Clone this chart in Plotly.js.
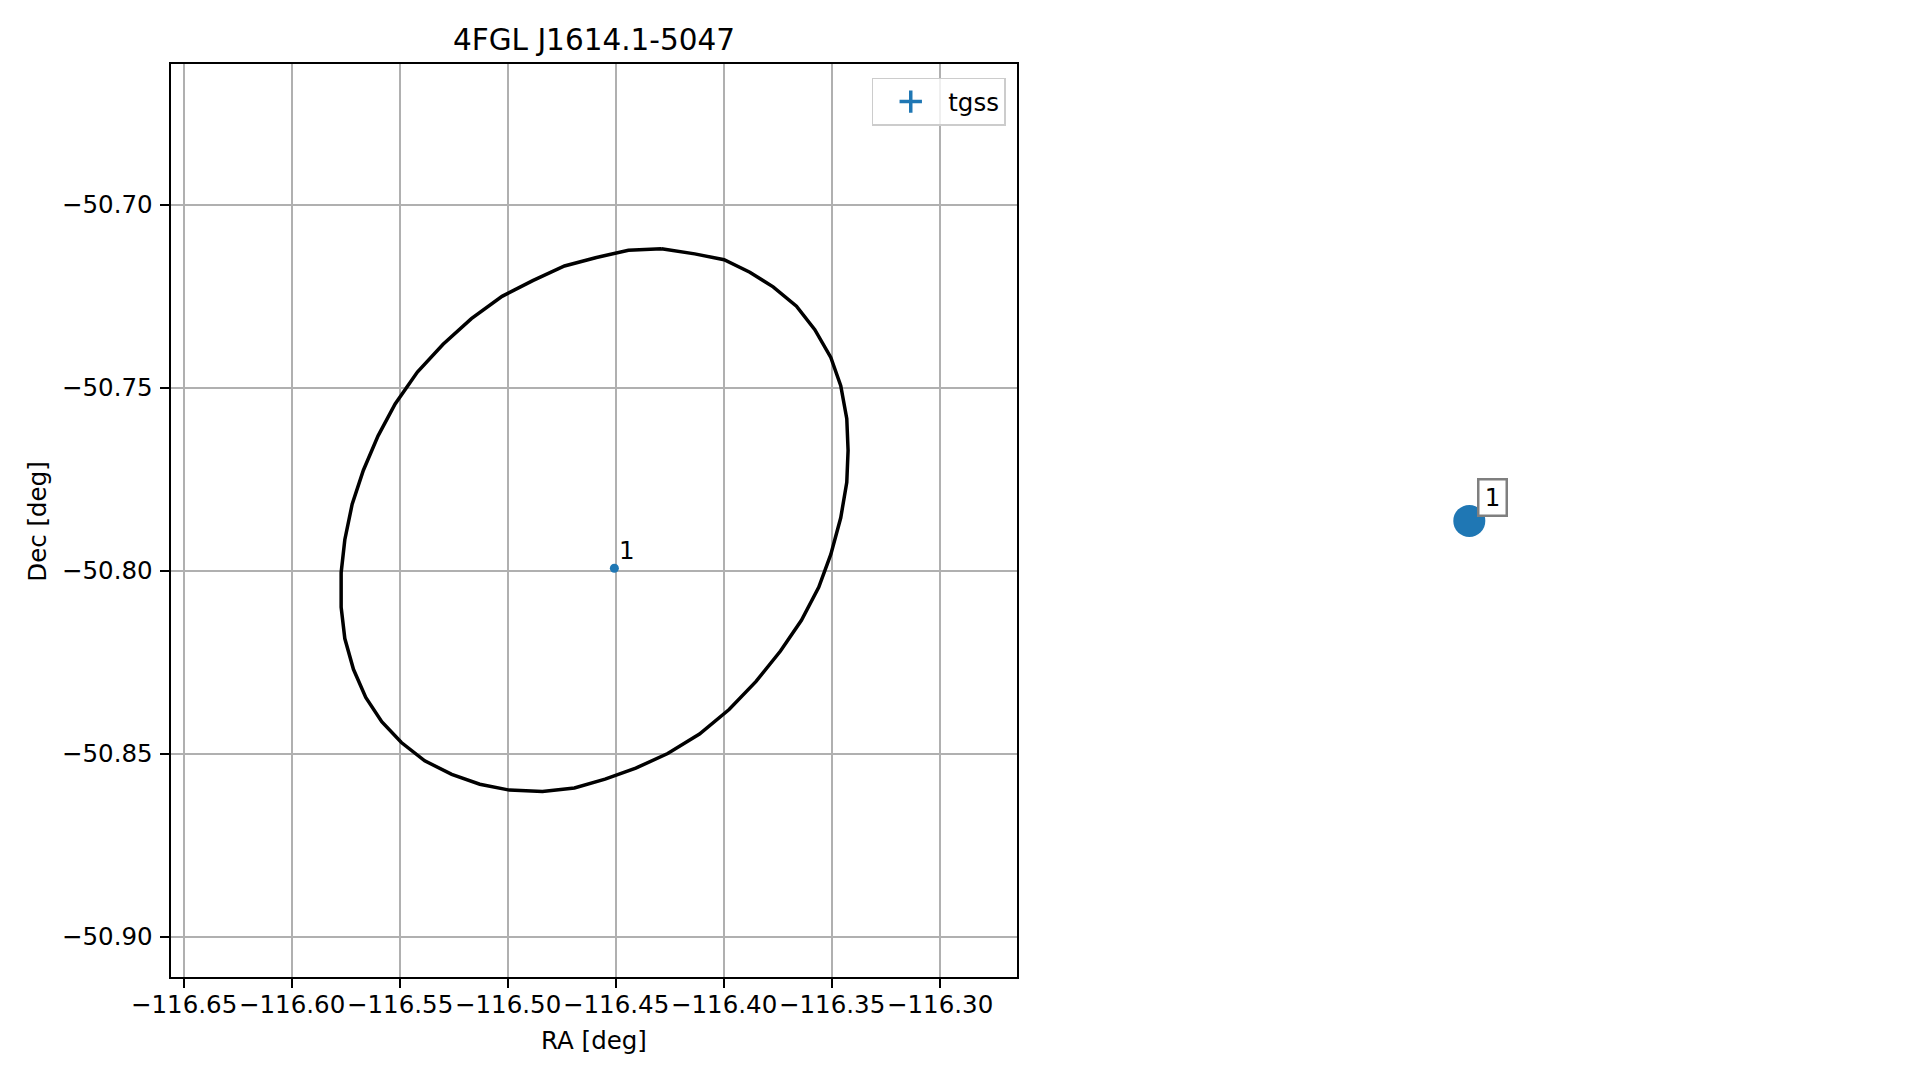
<!DOCTYPE html>
<html>
<head>
<meta charset="utf-8">
<script src="https://cdn.plot.ly/plotly-3.0.1.min.js"></script>
<style>html,body{margin:0;padding:0;background:#fff;}#chart{width:1919px;height:1080px;}</style>
</head>
<body>
<div id="chart"></div>
<script>
// ---- data ----
const chartTitle = "4FGL J1614.1-5047";
const sourceRA = [-116.4508];
const sourceDec = [-50.7993];
const sourceLabels = ["1"];
const legendName = "tgss";

const ellRA = [-116.4290,-116.4136,-116.4000,-116.3881,-116.3773,-116.3665,-116.3580,-116.3506,-116.3460,-116.3432,
  -116.3426,-116.3432,-116.3460,-116.3506,-116.3562,-116.3642,-116.3739,-116.3852,-116.3977,-116.4114,
  -116.4261,-116.4409,-116.4551,-116.4693,-116.4841,-116.4994,-116.5131,-116.5261,-116.5386,-116.5494,
  -116.5585,-116.5659,-116.5716,-116.5756,-116.5773,-116.5773,-116.5756,-116.5722,-116.5670,-116.5602,
  -116.5523,-116.5420,-116.5301,-116.5170,-116.5028,-116.4886,-116.4739,-116.4591,-116.4443,-116.4290];
const ellDec = [-50.7120,-50.7134,-50.7150,-50.7184,-50.7224,-50.7277,-50.7341,-50.7417,-50.7494,-50.7584,
  -50.7671,-50.7758,-50.7855,-50.7955,-50.8045,-50.8135,-50.8219,-50.8302,-50.8379,-50.8446,
  -50.8499,-50.8539,-50.8569,-50.8593,-50.8603,-50.8599,-50.8583,-50.8556,-50.8519,-50.8469,
  -50.8412,-50.8346,-50.8269,-50.8185,-50.8099,-50.8005,-50.7915,-50.7818,-50.7725,-50.7631,
  -50.7544,-50.7457,-50.7381,-50.7311,-50.7250,-50.7207,-50.7167,-50.7144,-50.7124,-50.7120];

const xTicks = [-116.65,-116.60,-116.55,-116.50,-116.45,-116.40,-116.35,-116.30];
const yTicks = [-50.70,-50.75,-50.80,-50.85,-50.90];

const zoomX = [0];
const zoomY = [0];
const zoomLabels = ["1"];

// ---- style ----
const FONT = "DejaVu Sans, Liberation Sans, sans-serif";
const BLUE = "#1f77b4";

const traces = [
  {x: ellRA, y: ellDec, mode: "lines", line: {color: "black", width: 3.5}, showlegend: false, hoverinfo: "skip", xaxis: "x", yaxis: "y"},
  {x: sourceRA, y: sourceDec, mode: "markers", marker: {color: BLUE, size: 9}, showlegend: false, xaxis: "x", yaxis: "y"},
  {x: [null], y: [null], mode: "markers", name: legendName,
   marker: {color: BLUE, symbol: "cross-thin-open", size: 28, line: {color: BLUE, width: 3.5}}, xaxis: "x", yaxis: "y"},
  {x: zoomX, y: zoomY, mode: "markers", marker: {color: BLUE, size: 32}, showlegend: false, xaxis: "x2", yaxis: "y2"}
];

const axisCommon = {
  showline: true, mirror: true, linecolor: "black", linewidth: 2,
  ticks: "outside", ticklen: 9, tickwidth: 2, tickcolor: "black",
  showgrid: true, gridcolor: "#b0b0b0", gridwidth: 2, zeroline: false,
  tickfont: {family: FONT, size: 24.5, color: "black"}, automargin: false,
  tickformat: ".2f", tickangle: 0
};

const layout = {
  width: 1919, height: 1080,
  margin: {l: 0, r: 0, t: 0, b: 0},
  paper_bgcolor: "white", plot_bgcolor: "white",
  showlegend: true,
  xaxis: Object.assign({}, axisCommon, {domain: [0.08885, 0.52996], range: [-116.6563, -116.2644],
    tickmode: "array", tickvals: xTicks, anchor: "y", ticklabelstandoff: -5}),
  yaxis: Object.assign({}, axisCommon, {domain: [0.09491, 0.94046], range: [-50.9111, -50.6616],
    tickmode: "array", tickvals: yTicks, anchor: "x", ticklabelstandoff: 2}),
  xaxis2: {domain: [0.58, 0.95133], range: [-1, 1], visible: false, anchor: "y2"},
  yaxis2: {domain: [0.09491, 0.94046], range: [-1, 1], visible: false, anchor: "x2"},
  legend: {x: 0.5241, xanchor: "right", y: 0.92806, yanchor: "top",
    bgcolor: "rgba(255,255,255,0.8)", bordercolor: "#cccccc", borderwidth: 1.5,
    font: {family: FONT, size: 24.5, color: "black"}, itemwidth: 65},
  annotations: [
    {text: chartTitle, xref: "paper", yref: "paper", x: 594/1919, y: 1 - 40/1080, xanchor: "center", yanchor: "middle",
     showarrow: false, font: {family: FONT, size: 29.5, color: "black"}},
    {text: "RA [deg]", xref: "paper", yref: "paper", x: 594/1919, y: 1 - 1040/1080, xanchor: "center", yanchor: "middle",
     showarrow: false, font: {family: FONT, size: 24.5, color: "black"}},
    {text: "Dec [deg]", xref: "paper", yref: "paper", x: 36.7/1919, y: 1 - 521/1080, xanchor: "center", yanchor: "middle",
     textangle: -90, showarrow: false, font: {family: FONT, size: 24.5, color: "black"}},
    {text: sourceLabels[0], xref: "x", yref: "y", x: sourceRA[0], y: sourceDec[0], showarrow: true, arrowcolor: "rgba(0,0,0,0)",
     ax: 13, ay: -18, font: {family: FONT, size: 24.5, color: "black"}},
    {text: zoomLabels[0], xref: "x2", yref: "y2", x: zoomX[0], y: zoomY[0], showarrow: true, arrowcolor: "rgba(0,0,0,0)",
     ax: 23, ay: -23.5, bgcolor: "white", bordercolor: "#7f7f7f", borderwidth: 2.5, borderpad: 3,
     width: 20, height: 28, font: {family: FONT, size: 24.5, color: "black"}}
  ]
};

Plotly.newPlot("chart", traces, layout, {staticPlot: true, displayModeBar: false});
</script>
</body>
</html>
